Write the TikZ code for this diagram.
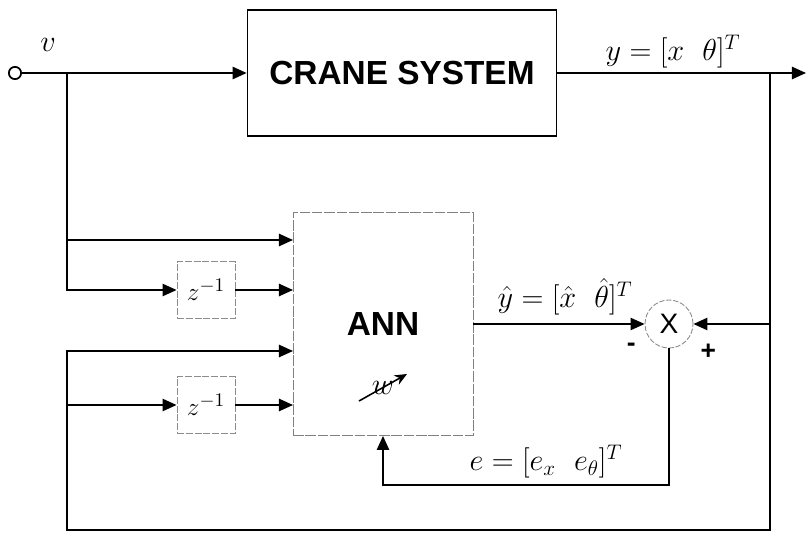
\documentclass[tikz,border=0pt]{standalone}
\usepackage{fontspec}
\setsansfont{Liberation Sans}
\usepackage{tikz}
\usetikzlibrary{arrows.meta, positioning, calc}

\begin{document}
\begin{tikzpicture}[x=0.02cm, y=-0.02cm,
      blk/.style={draw, line width=1pt, minimum width=6.18cm, minimum height=2.52cm, inner sep=0pt, font=\sffamily\bfseries\fontsize{19}{22}\selectfont},
      ann/.style={draw=black!50, line width=0.5pt, dash pattern=on 6pt off 1pt, minimum width=3.6cm, minimum height=4.46cm, inner sep=0pt, font=\sffamily\bfseries\fontsize{19}{22}\selectfont},
      dly/.style={draw=black!45, line width=0.5pt, dash pattern=on 4pt off 1pt, minimum width=1.16cm, minimum height=1.14cm, inner sep=0pt, font=\fontsize{15}{18}\selectfont},
      sum/.style={circle, draw=black!45, line width=0.5pt, dash pattern=on 3pt off 1pt, minimum size=0.96cm, inner sep=0pt, font=\sffamily\fontsize{16}{18}\selectfont},
      lbl/.style={inner sep=0pt, font=\fontsize{17}{20}\selectfont},
      sgn/.style={inner sep=0pt, font=\sffamily\bfseries\fontsize{15}{18}\selectfont},
      arr/.style={-{Triangle[length=8pt, width=7pt]}, line width=1pt},
      ln/.style={line width=1pt}]
    \useasboundingbox (0,0) rectangle (806,541);
    \node[circle, draw, line width=1pt, minimum size=7pt, inner sep=0pt] (in) at (15,73) {};
    \node[blk] (crane) at (402,73) {CRANE SYSTEM};
    \node[ann] (net) at (383,324) {}; \node at (383,324) [font=\sffamily\bfseries\fontsize{19}{22}\selectfont] (annt) {ANN};
    \node[dly] (z1) at (206,290) {$z^{-1}$}; \node[dly] (z2) at (206,405) {$z^{-1}$};
    \node[sum] (err) at (669,324) {X};
    \node[lbl] (v) at (48,45) {$v$};
    \node[lbl] (ylab) at (673,52) {$y=[x\ \ \theta]^T$};
    \node[lbl] (yhat) at (565,297) {$\hat{y}=[\hat{x}\ \ \hat{\theta}]^T$};
    \node[lbl] (elab) at (546,462) {$e=[e_x\ \ e_\theta]^T$};
    \node[sgn, below left=1pt and 9pt of err.south west] (minus) {-};
    \node[sgn, below right=1.5pt and 8pt of err.south east] (plus) {+};
    \node[inner sep=0pt, font=\fontsize{19}{22}\selectfont] (wt) at (383,388) {$w$};
    \coordinate (tap) at (67,73); \coordinate (fb) at (770,73); \coordinate (out) at (806,73);
    \coordinate (low) at (67,530); \coordinate (ltap) at (67,405); \coordinate (errc) at (383,485);
    \coordinate (a1) at (293,240); \coordinate (a2) at (293,290); \coordinate (a3) at (293,351); \coordinate (a4) at (293,405);
    \draw[arr] (in) -- (crane);
    \draw[arr] (crane) -- (out);
    \draw[arr] (tap) |- (a1);
    \draw[arr] (tap) |- (z1);
    \draw[arr] (z1) -- (a2);
    \draw[arr] (fb) |- (low) |- (a3);
    \draw[arr] (ltap) -- (z2);
    \draw[arr] (z2) -- (a4);
    \draw[arr] (fb) |- (err);
    \draw[arr] (net.east |- err) -- (err);
    \draw[arr] (err) |- (errc) -- (net);
    \draw[-{Stealth[length=7pt, width=6pt]}, line width=0.9pt] ([shift={(-24,13)}]wt.center) -- ([shift={(24,-14)}]wt.center);
  \end{tikzpicture}
\end{document}
